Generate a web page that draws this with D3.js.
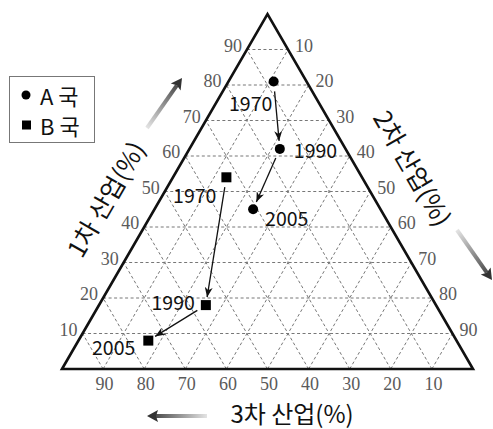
<!DOCTYPE html>
<html><head><meta charset="utf-8">
<script src="https://cdn.jsdelivr.net/npm/d3@7"></script>
<style>body{margin:0;background:#fff}</style>
</head><body><svg id="c" width="493" height="429"></svg>
<script>
const years = ["1970","1990","2005"];
const aPrimary = [81, 62, 45];
const aSecondary = [11, 22, 24];
const aTertiary = [8, 16, 31];
const bPrimary = [54, 18, 8];
const bSecondary = [13, 26, 17];
const bTertiary = [33, 56, 75];
const gridValues = [10,20,30,40,50,60,70,80,90];
const legendLabels = ["A 국","B 국"];
const axisTitles = ["1차 산업(%)","2차 산업(%)","3차 산업(%)"];

// label placement (styling only)
const aLabelStyle = [{dx:-23,dy:21,anchor:"middle"},{dx:14,dy:1,anchor:"start"},{dx:12,dy:8,anchor:"start"}];
const bLabelStyle = [{dx:-10,dy:17,anchor:"end"},{dx:-11,dy:-4,anchor:"end"},{dx:-13,dy:6,anchor:"end"}];

const svg = d3.select("#c");
const X = d3.scaleLinear().domain([0,100]).range([62,473]);
const Y = d3.scaleLinear().domain([0,100]).range([369,14]);
const pos = (p, s) => [X(s + p/2), Y(p)];
const serif = "'Liberation Serif','DejaVu Serif',serif";
const sans = "'Noto Sans CJK KR','Noto Sans',sans-serif";

const defs = svg.append("defs");
defs.append("marker").attr("id","ah").attr("viewBox","0 0 10 8")
  .attr("refX",10).attr("refY",4).attr("markerWidth",10).attr("markerHeight",8)
  .attr("markerUnits","userSpaceOnUse").attr("orient","auto")
  .append("path").attr("d","M0,0 L10,4 L0,8 L3,4 Z").attr("fill","#111");

// grid
const grid = svg.append("g").attr("stroke","#777").attr("stroke-width",1).attr("stroke-dasharray","3,2.5").attr("fill","none");
const line = d3.line();
gridValues.forEach(v => {
  grid.append("path").attr("d", line([pos(v,0), pos(v,100-v)]));
  grid.append("path").attr("d", line([pos(0,v), pos(100-v,v)]));
  grid.append("path").attr("d", line([pos(0,100-v), pos(100-v,0)]));
});

// triangle
svg.append("path").attr("d", line([pos(0,0), pos(100,0), pos(0,100)]) + "Z")
  .attr("fill","none").attr("stroke","#111").attr("stroke-width",2.6).attr("stroke-linejoin","miter");

// tick labels
const tl = svg.append("g").attr("font-family",serif).attr("font-size",18).attr("fill","#5a5a5a").attr("dominant-baseline","central");
gridValues.forEach(v => {
  const l = pos(v,0);
  tl.append("text").attr("x",l[0]-5).attr("y",l[1]-4).attr("text-anchor","end").text(v);
  const r = pos(100-v,v);
  tl.append("text").attr("x",r[0]+7).attr("y",r[1]-4).attr("text-anchor","start").text(v);
  const b = pos(0,100-v);
  tl.append("text").attr("x",b[0]+1.5).attr("y",b[1]+15).attr("text-anchor","middle").text(v);
});

// series
function drawSeries(P, S, style, shape) {
  const pts = P.map((p,i) => pos(p, S[i]));
  for (let i = 0; i < pts.length-1; i++) {
    const [x1,y1] = pts[i], [x2,y2] = pts[i+1];
    const dx = x2-x1, dy = y2-y1, L = Math.hypot(dx,dy);
    const ux = dx/L, uy = dy/L;
    svg.append("line").attr("x1",x1+ux*10).attr("y1",y1+uy*10)
      .attr("x2",x2-ux*8).attr("y2",y2-uy*8)
      .attr("stroke","#111").attr("stroke-width",1.3).attr("marker-end","url(#ah)");
  }
  pts.forEach((pt,i) => {
    if (shape === "circle") svg.append("circle").attr("cx",pt[0]).attr("cy",pt[1]).attr("r",5).attr("fill","#000");
    else svg.append("rect").attr("x",pt[0]-5).attr("y",pt[1]-5).attr("width",10).attr("height",10).attr("fill","#000");
    svg.append("text").attr("x",pt[0]+style[i].dx).attr("y",pt[1]+style[i].dy)
      .attr("text-anchor",style[i].anchor).attr("dominant-baseline","central")
      .attr("font-family",sans).attr("font-size",19.5).attr("fill","#111").text(years[i]);
  });
}
drawSeries(aPrimary, aSecondary, aLabelStyle, "circle");
drawSeries(bPrimary, bSecondary, bLabelStyle, "square");

// legend
svg.append("rect").attr("x",9.5).attr("y",76.5).attr("width",85).attr("height",66)
  .attr("fill","#fff").attr("stroke","#777").attr("stroke-width",1);
svg.append("circle").attr("cx",26).attr("cy",95).attr("r",4.5).attr("fill","#000");
svg.append("rect").attr("x",22).attr("y",120.5).attr("width",9).attr("height",9).attr("fill","#000");
legendLabels.forEach((t,i) => {
  svg.append("text").attr("x",40).attr("y",95 + i*30).attr("dominant-baseline","central")
    .attr("font-family",sans).attr("font-size",22).attr("fill","#111").text(t);
});

// axis titles
const titlePos = [[104.5,198.5,-60],[414,167.5,60],[292,412,0]];
const titleSize = [25,25,24];
axisTitles.forEach((t,i) => {
  const [x,y,r] = titlePos[i];
  svg.append("text").attr("transform",`translate(${x},${y}) rotate(${r})`)
    .attr("text-anchor","middle").attr("dominant-baseline","central")
    .attr("font-family",sans).attr("font-size",titleSize[i]).attr("fill","#111").text(t);
});

// gradient arrows
const arrows = [[147,128,182,78],[457,230,492,280],[207,416,147,416]];
arrows.forEach((a,i) => {
  const [x1,y1,x2,y2] = a;
  const g = defs.append("linearGradient").attr("id","g"+i).attr("gradientUnits","userSpaceOnUse")
    .attr("x1",x1).attr("y1",y1).attr("x2",x2).attr("y2",y2);
  g.append("stop").attr("offset","0").attr("stop-color","#e4e4e4");
  g.append("stop").attr("offset","1").attr("stop-color","#333");
  const dx = x2-x1, dy = y2-y1, L = Math.hypot(dx,dy), ux = dx/L, uy = dy/L;
  const hx = x2-ux*11, hy = y2-uy*11;
  svg.append("line").attr("x1",x1).attr("y1",y1).attr("x2",hx+ux*2).attr("y2",hy+uy*2)
    .attr("stroke",`url(#g${i})`).attr("stroke-width",4);
  svg.append("path").attr("d", line([[x2,y2],[hx-uy*6,hy+ux*6],[hx+ux*2,hy+uy*2],[hx+uy*6,hy-ux*6]])+"Z")
    .attr("fill","#333");
});
</script></body></html>
